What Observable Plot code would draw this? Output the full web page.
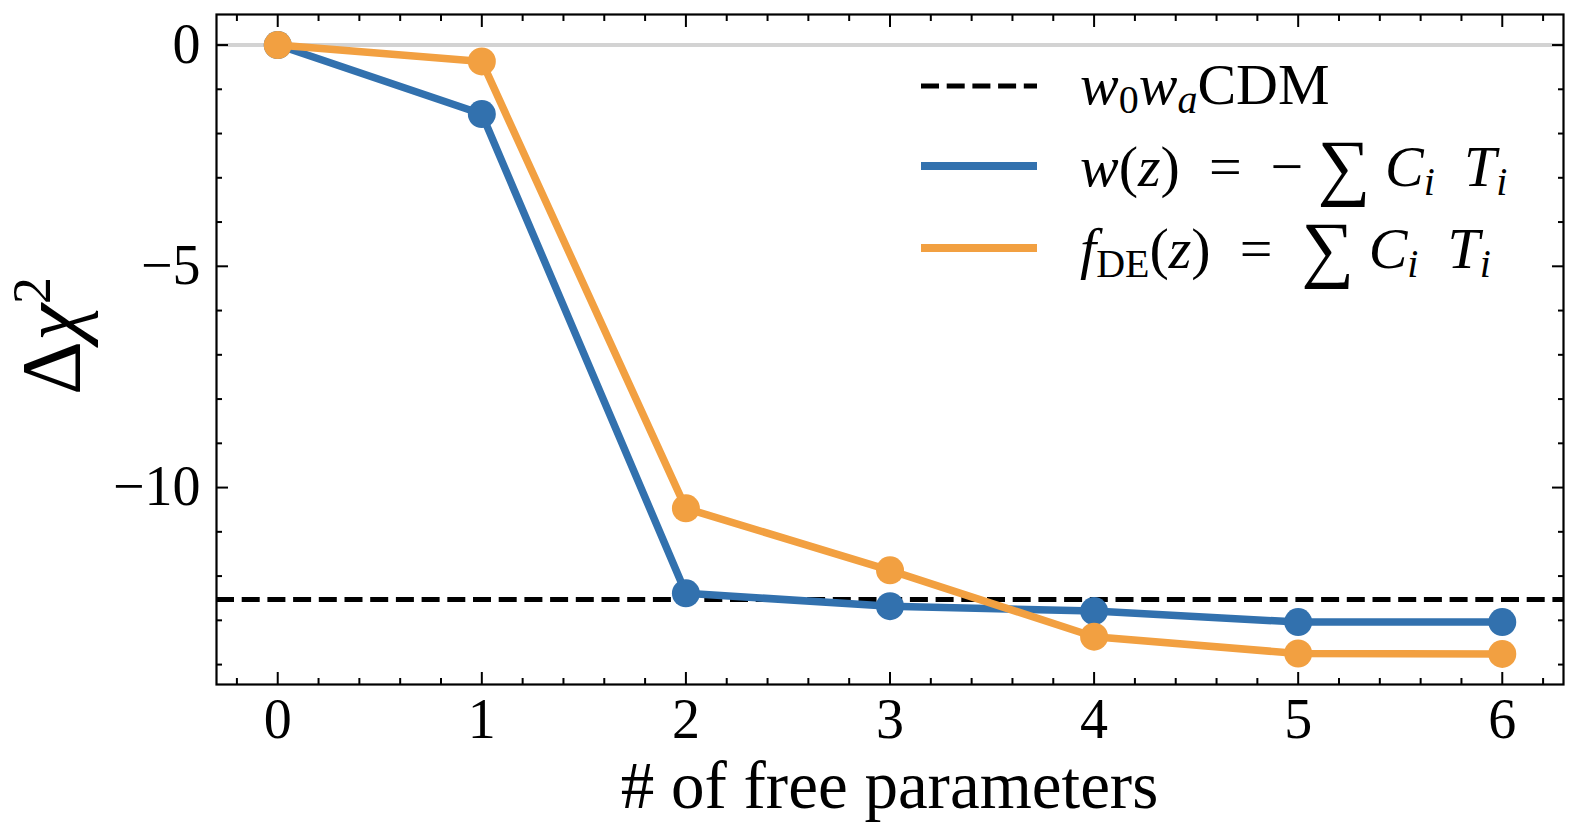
<!DOCTYPE html>
<html>
<head>
<meta charset="utf-8">
<script src="https://cdn.jsdelivr.net/npm/d3@7"></script>
<script src="https://cdn.jsdelivr.net/npm/@observablehq/plot@0.6"></script>
<style>
  html, body { margin: 0; padding: 0; background: white; }
  #chart { width: 1578px; height: 836px; }
</style>
</head>
<body>
<div id="chart"></div>
<script>
// ---- data ----
const nParams = [0, 1, 2, 3, 4, 5, 6];
const dchi2W = [0, -1.56, -12.39, -12.68, -12.79, -13.04, -13.04];   // w(z) = -Σ C_i T_i
const dchi2F = [0, -0.37, -10.47, -11.87, -13.37, -13.75, -13.76];   // f_DE(z) = Σ C_i T_i
const w0waCDM = [-12.53];
const xTicks = [0, 1, 2, 3, 4, 5, 6];
const xMinorTicks = [-0.2, 0.2, 0.4, 0.6, 0.8, 1.2, 1.4, 1.6, 1.8, 2.2, 2.4, 2.6, 2.8, 3.2, 3.4, 3.6, 3.8, 4.2, 4.4, 4.6, 4.8, 5.2, 5.4, 5.6, 5.8, 6.2];
const yTicks = [0, -5, -10];
const yMinorTicks = [-1, -2, -3, -4, -6, -7, -8, -9, -11, -12, -13, -14];

const blue = "#3271ae";
const orange = "#f2a041";
const FONT = "'Liberation Serif', 'DejaVu Serif', serif";

const rowsW = nParams.map((n, i) => ({n, v: dchi2W[i]}));
const rowsF = nParams.map((n, i) => ({n, v: dchi2F[i]}));
const fmt = d => d < 0 ? "\u2212" + Math.abs(d) : String(d);
const blank = () => "";

const plot = Plot.plot({
  width: 1578,
  height: 836,
  marginLeft: 216,
  marginRight: 15,
  marginTop: 14,
  marginBottom: 152,
  x: {domain: [-0.3, 6.3], label: null},
  y: {domain: [-14.45, 0.69], label: null},
  style: {fontFamily: FONT, background: "white", color: "black"},
  marks: [
    Plot.ruleY([0], {stroke: "#d3d3d3", strokeWidth: 4}),
    Plot.ruleY(w0waCDM, {stroke: "black", strokeWidth: 5, strokeDasharray: "18,7.7"}),
    Plot.line(rowsW, {x: "n", y: "v", stroke: blue, strokeWidth: 7.5}),
    Plot.dot(rowsW, {x: "n", y: "v", r: 14, fill: blue, stroke: "none"}),
    Plot.line(rowsF, {x: "n", y: "v", stroke: orange, strokeWidth: 7.5}),
    Plot.dot(rowsF, {x: "n", y: "v", r: 14, fill: orange, stroke: "none"}),
    Plot.frame({stroke: "black", strokeWidth: 2.2}),
    // inward major / minor ticks on all four sides
    Plot.axisX(xTicks, {anchor: "bottom", tickSize: -12, strokeWidth: 2, tickFormat: blank, label: null}),
    Plot.axisX(xTicks, {anchor: "top", tickSize: -12, strokeWidth: 2, tickFormat: blank, label: null}),
    Plot.axisX(xMinorTicks, {anchor: "bottom", tickSize: -6, strokeWidth: 2, tickFormat: blank, label: null}),
    Plot.axisX(xMinorTicks, {anchor: "top", tickSize: -6, strokeWidth: 2, tickFormat: blank, label: null}),
    Plot.axisY(yTicks, {anchor: "left", tickSize: -12, strokeWidth: 2, tickFormat: blank, label: null}),
    Plot.axisY(yTicks, {anchor: "right", tickSize: -12, strokeWidth: 2, tickFormat: blank, label: null}),
    Plot.axisY(yMinorTicks, {anchor: "left", tickSize: -6, strokeWidth: 2, tickFormat: blank, label: null}),
    Plot.axisY(yMinorTicks, {anchor: "right", tickSize: -6, strokeWidth: 2, tickFormat: blank, label: null}),
    // tick labels
    Plot.axisX(xTicks, {anchor: "bottom", tickSize: 0, tickPadding: 14, fontSize: 56, tickFormat: fmt, label: null}),
    Plot.axisY(yTicks, {anchor: "left", tickSize: 0, tickPadding: 16, fontSize: 56, tickFormat: fmt, label: null})
  ]
});

document.getElementById("chart").appendChild(plot);

const svg = d3.select(plot);
const xr = plot.scale("x").range;

// x-axis label
svg.append("text")
  .attr("x", (xr[0] + xr[1]) / 2)
  .attr("y", 808)
  .attr("text-anchor", "middle")
  .attr("font-family", FONT)
  .attr("font-size", 67)
  .attr("fill", "black")
  .text("# of free parameters");

// y-axis label  Δχ²
const yl = svg.append("text")
  .attr("transform", `translate(80, 336) rotate(-90)`)
  .attr("text-anchor", "middle")
  .attr("font-family", FONT)
  .attr("font-size", 84)
  .attr("fill", "black");
yl.append("tspan").text("\u0394");
yl.append("tspan").attr("font-style", "italic").text("\u03C7");
yl.append("tspan").attr("font-size", 54).attr("dy", -30).text("2");

// legend
const lg = svg.append("g").attr("font-family", FONT).attr("fill", "black").attr("text-anchor", "start");
const legendRows = [
  {y: 86, stroke: "black", width: 5, dash: "18,7.7"},
  {y: 166, stroke: blue, width: 8, dash: null},
  {y: 248, stroke: orange, width: 8, dash: null}
];
legendRows.forEach(r => {
  const l = lg.append("line")
    .attr("x1", 921).attr("x2", 1037)
    .attr("y1", r.y).attr("y2", r.y)
    .attr("stroke", r.stroke).attr("stroke-width", r.width);
  if (r.dash) l.attr("stroke-dasharray", r.dash);
});

function mathText(y, parts) {
  const t = lg.append("text").attr("x", 1080).attr("y", y).attr("font-size", 58).attr("text-anchor", "start")
    .attr("xml:space", "preserve").style("white-space", "pre");
  parts.forEach(p => {
    const s = t.append("tspan").text(p.t);
    if (p.i) s.attr("font-style", "italic");
    if (p.fs) s.attr("font-size", p.fs);
    if (p.dy) s.attr("dy", p.dy);
  });
}
mathText(104, [
  {t: "w", i: true},
  {t: "0", fs: 40, dy: 9},
  {t: "w", i: true, dy: -9},
  {t: "a", i: true, fs: 40, dy: 9},
  {t: "CDM", dy: -9}
]);
mathText(186, [
  {t: "w", i: true},
  {t: "("},
  {t: "z", i: true},
  {t: ")  =  \u2212 "},
  {t: "\u2211", fs: 74, dy: 5},
  {t: " "},
  {t: "C", i: true, dy: -5},
  {t: "i", i: true, fs: 40, dy: 9},
  {t: "  "},
  {t: "T", i: true, dy: -9},
  {t: "i", i: true, fs: 40, dy: 9}
]);
mathText(268, [
  {t: "f", i: true},
  {t: "DE", fs: 40, dy: 9},
  {t: "(", dy: -9},
  {t: "z", i: true},
  {t: ")  =  "},
  {t: "\u2211", fs: 74, dy: 5},
  {t: " "},
  {t: "C", i: true, dy: -5},
  {t: "i", i: true, fs: 40, dy: 9},
  {t: "  "},
  {t: "T", i: true, dy: -9},
  {t: "i", i: true, fs: 40, dy: 9}
]);
</script>
</body>
</html>
